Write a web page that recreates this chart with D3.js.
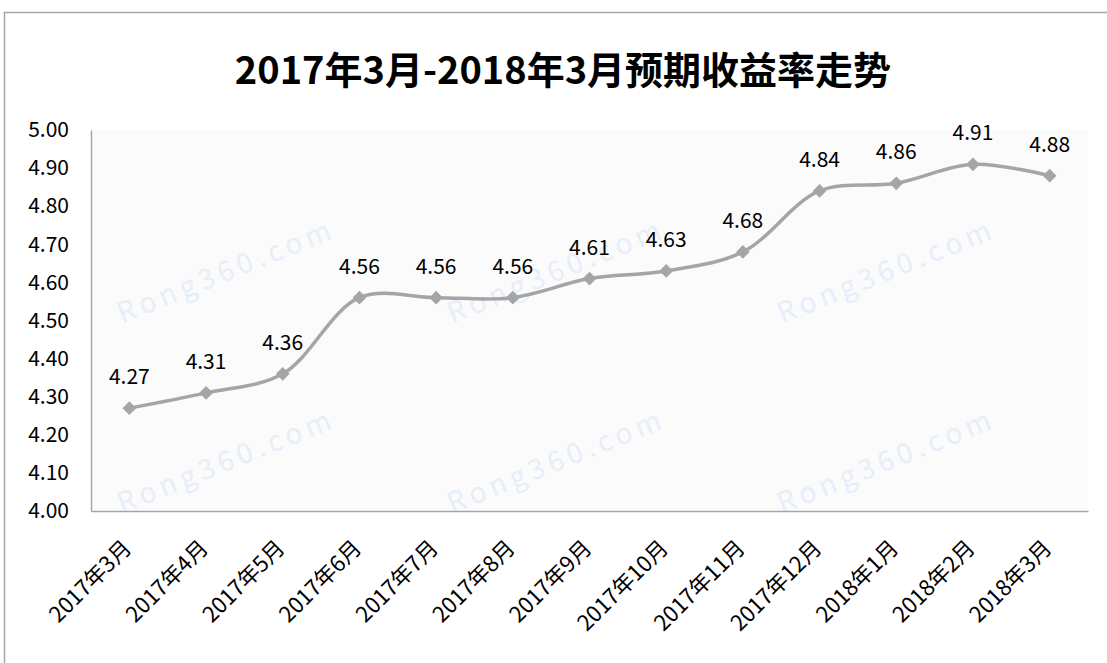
<!DOCTYPE html>
<html>
<head>
<meta charset="utf-8">
<script src="https://cdn.jsdelivr.net/npm/d3@7"></script>
<style>
  body { margin: 0; background: #fff; }
  text { font-family: "Noto Sans CJK SC", "Noto Sans", sans-serif; }
</style>
</head>
<body>
<div id="chart"></div>
<script>
'use strict';

const months = ["2017年3月", "2017年4月", "2017年5月", "2017年6月", "2017年7月", "2017年8月",
	"2017年9月", "2017年10月", "2017年11月", "2017年12月", "2018年1月", "2018年2月", "2018年3月"];
const rates = [4.27, 4.31, 4.36, 4.56, 4.56, 4.56, 4.61, 4.63, 4.68, 4.84, 4.86, 4.91, 4.88];
const yTicks = [4.00, 4.10, 4.20, 4.30, 4.40, 4.50, 4.60, 4.70, 4.80, 4.90, 5.00];
const title = "2017年3月-2018年3月预期收益率走势";

const width = 1107, height = 663;
const margin = { top: 130, right: 19, bottom: 152, left: 91 };

const svg = d3.select("#chart").append("svg")
	.attr("width", width)
	.attr("height", height);

// outer chart border (runs off the right and bottom of the picture)
svg.append("rect")
	.attr("x", 4.5).attr("y", 12.5)
	.attr("width", 1130).attr("height", 700)
	.attr("fill", "#fff")
	.attr("stroke", "#a6a6a6")
	.attr("stroke-width", 1.5);

svg.append("text")
	.attr("x", 563).attr("y", 84)
	.attr("text-anchor", "middle")
	.attr("font-size", 38)
	.attr("font-weight", "bold")
	.attr("fill", "#000")
	.text(title);

const x = d3.scaleBand()
	.domain(months)
	.range([margin.left, width - margin.right]);

const y = d3.scaleLinear()
	.domain([4.0, 5.0])
	.range([height - margin.bottom, margin.top]);

// plot area background
svg.append("rect")
	.attr("x", margin.left).attr("y", margin.top)
	.attr("width", width - margin.right - margin.left)
	.attr("height", height - margin.bottom - margin.top)
	.attr("fill", "#fbfbfb");

// faint watermark text
const marks = [[230, 280], [560, 280], [890, 280], [230, 470], [560, 470], [890, 470]];
svg.append("g")
	.selectAll("text")
	.data(marks)
	.join("text")
		.attr("transform", d => `translate(${d[0]},${d[1]}) rotate(-22)`)
		.attr("text-anchor", "middle")
		.attr("font-size", 28)
		.attr("letter-spacing", 5)
		.attr("fill", "#e6eefa")
		.text("Rong360.com");

const yAxis = g => g
	.attr("transform", `translate(${margin.left},0)`)
	.call(d3.axisLeft(y).tickValues(yTicks).tickSize(0).tickPadding(22).tickFormat(d3.format(".2f")))
	.call(g => g.select(".domain").attr("stroke", "#a6a6a6").attr("stroke-width", 1.5))
	.call(g => g.selectAll(".tick text").attr("font-size", 21).attr("fill", "#000"));

const xAxis = g => g
	.attr("transform", `translate(0,${height - margin.bottom})`)
	.call(d3.axisBottom(x).tickSize(0).tickPadding(0))
	.call(g => g.select(".domain").attr("stroke", "#a6a6a6").attr("stroke-width", 1.5))
	.call(g => g.selectAll(".tick text")
		.attr("font-size", 22)
		.attr("fill", "#000")
		.attr("text-anchor", "end")
		.attr("transform", "translate(-2,33) rotate(-45)")
		.attr("dy", "0.35em")
		.attr("y", 0));

svg.append("g").call(yAxis);
svg.append("g").call(xAxis);

const px = d => x(d) + x.bandwidth() / 2;

const line = d3.line()
	.x((d, i) => px(months[i]))
	.y(d => y(d))
	.curve(d3.curveCatmullRom.alpha(0.5));

svg.append("path")
	.datum(rates)
	.attr("fill", "none")
	.attr("stroke", "#a5a5a5")
	.attr("stroke-width", 3.5)
	.attr("d", line);

svg.append("g")
	.selectAll("path")
	.data(rates)
	.join("path")
		.attr("transform", (d, i) => `translate(${px(months[i])},${y(d)})`)
		.attr("d", d3.symbol(d3.symbolDiamond2, 120))
		.attr("fill", "#a5a5a5");

svg.append("g")
	.selectAll("text")
	.data(rates)
	.join("text")
		.attr("x", (d, i) => px(months[i]))
		.attr("y", d => y(d) - 24)
		.attr("text-anchor", "middle")
		.attr("font-size", 21)
		.attr("fill", "#000")
		.text(d => d.toFixed(2));
</script>
</body>
</html>
